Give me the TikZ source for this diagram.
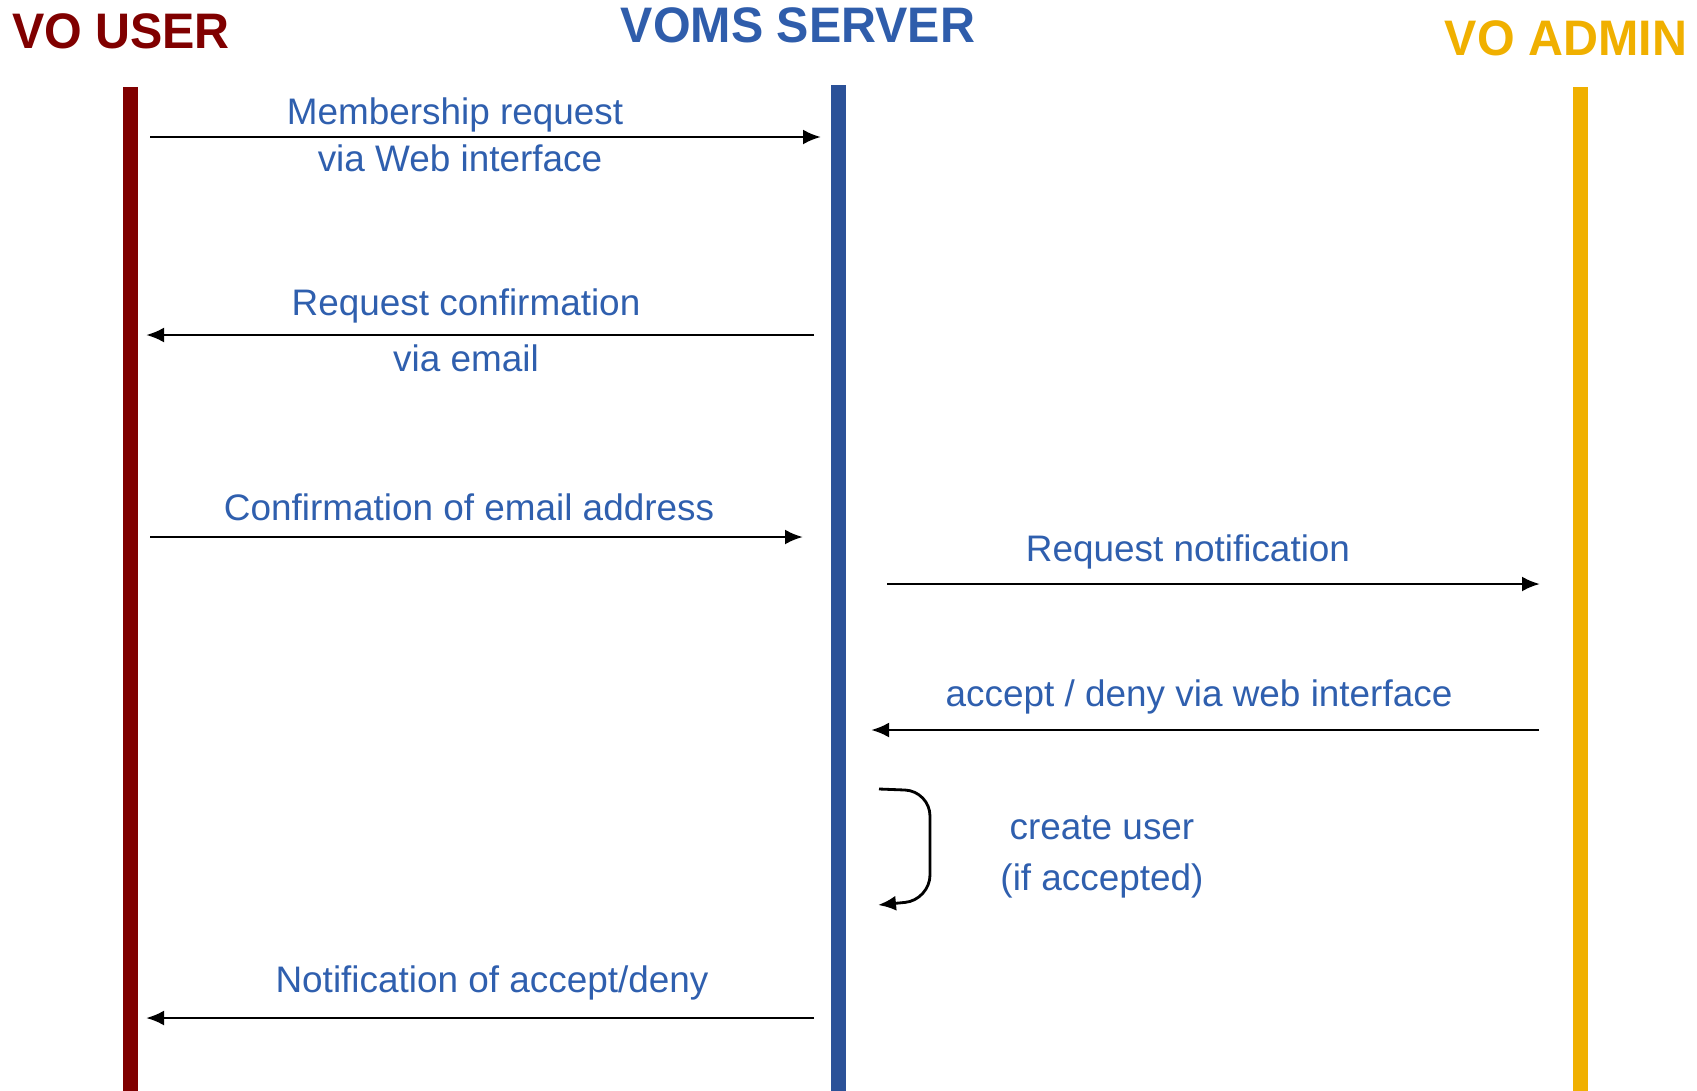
\documentclass[tikz,border=0pt]{standalone}
\usepackage{fontspec}
\setmainfont{Liberation Sans}
\newfontfamily\headfont[FakeStretch=0.97]{Liberation Sans}
\usepackage{xcolor}
\usepackage{tikz}
\usetikzlibrary{calc, arrows.meta, positioning}

\definecolor{userred}{HTML}{800000}
\definecolor{serverblue}{HTML}{2B5198}
\definecolor{titleblue}{HTML}{2F5DAB}
\definecolor{adminyellow}{HTML}{F0B000}
\definecolor{msgblue}{HTML}{2F5FAE}

\begin{document}
\begin{tikzpicture}[>={Latex[length=1.8mm, width=1.5mm]},
    lifeline/.style={line width=1.5mm},
    msg/.style={->, line width=0.8pt, black},
    lbl/.style={text=msgblue, font=\fontsize{10.5}{12}\selectfont, inner sep=0pt},
    head/.style={font=\headfont\fontsize{14.2}{16}\selectfont\bfseries, inner sep=0pt}]
    \useasboundingbox (0,0) rectangle (16.97,-10.91);

    % 1. Tiêu đề và đường đời
    \node[head, text=userred] (user) at (1.21,-0.31) {VO USER};
    \node[head, text=titleblue] (server) at (7.98,-0.25) {VOMS SERVER};
    \node[head, text=adminyellow] (admin) at (15.66,-0.385) {VO ADMIN};

    \draw[lifeline, userred] (1.30,-0.87) -- (1.30,-10.91);
    \draw[lifeline, serverblue] (8.385,-0.85) -- (8.385,-10.91);
    \draw[lifeline, adminyellow] (15.80,-0.87) -- (15.80,-10.91);

    % 2. Các điểm đầu cuối của thông điệp
    \coordinate (m1a) at (1.50,-1.37);  \coordinate (m1b) at (8.21,-1.37);
    \coordinate (m2a) at (8.14,-3.35);  \coordinate (m2b) at (1.46,-3.35);
    \coordinate (m3a) at (1.50,-5.37);  \coordinate (m3b) at (8.03,-5.37);
    \coordinate (m4a) at (8.87,-5.84);  \coordinate (m4b) at (15.40,-5.84);
    \coordinate (m5a) at (15.39,-7.30); \coordinate (m5b) at (8.71,-7.30);
    \coordinate (m6a) at (8.79,-7.89);  \coordinate (m6b) at (8.78,-9.05);
    \coordinate (m7a) at (8.14,-10.18); \coordinate (m7b) at (1.46,-10.18);

    % 3. Thông điệp giữa người dùng và máy chủ
    \draw[msg] (m1a) -- (m1b);
    \node[lbl] (l1a) at (4.55,-1.15) {Membership request};
    \node[lbl] (l1b) at (4.60,-1.58) {via Web interface};

    \draw[msg] (m2a) -- (m2b);
    \node[lbl] (l2a) at (4.66,-3.06) {Request confirmation};
    \node[lbl] (l2b) at (4.66,-3.58) {via email};

    \draw[msg] (m3a) -- (m3b);
    \node[lbl] (l3) at (4.69,-5.07) {Confirmation of email address};

    % 4. Thông điệp giữa máy chủ và quản trị
    \draw[msg] (m4a) -- (m4b);
    \node[lbl] (l4) at (11.88,-5.52) {Request notification};

    \draw[msg] (m5a) -- (m5b);
    \node[lbl] (l5) at (11.99,-6.97) {accept / deny via web interface};

    % Vòng lặp tạo người dùng
    \draw[msg, rounded corners=2.5mm] (m6a) -- (9.30,-7.91) -- (9.30,-9.00) -- (m6b);
    \node[lbl] (l6a) at (11.02,-8.28) {create user};
    \node[lbl] (l6b) at (11.02,-8.81) {(if accepted)};

    % 5. Thông báo kết quả
    \draw[msg] (m7a) -- (m7b);
    \node[lbl] (l7) at (4.92,-9.83) {Notification of accept/deny};

\end{tikzpicture}
\end{document}
